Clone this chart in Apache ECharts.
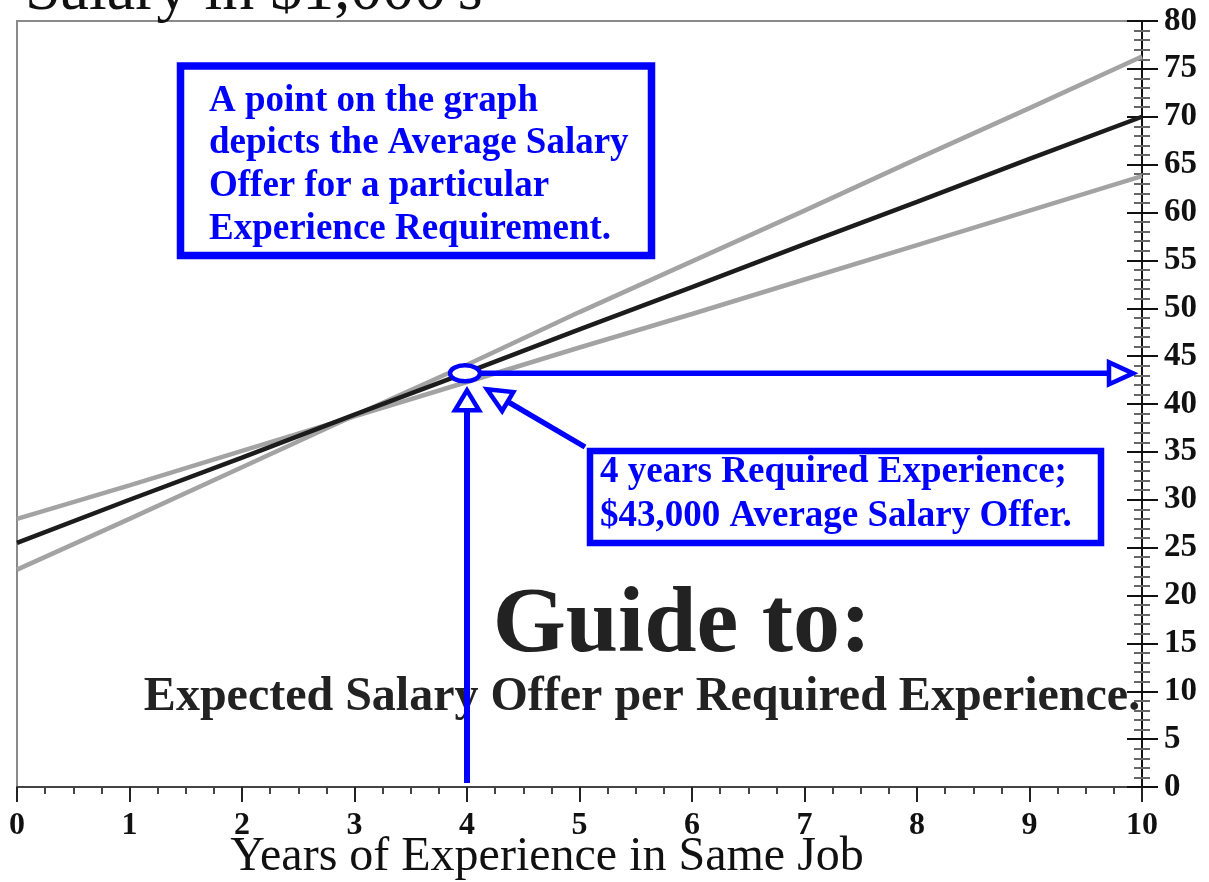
<!DOCTYPE html>
<html>
<head>
<meta charset="utf-8">
<script src="https://cdn.jsdelivr.net/npm/echarts@6/dist/echarts.min.js"></script>
<style>
  html, body { margin: 0; padding: 0; background: #ffffff; }
  #chart { width: 1209px; height: 882px; }
</style>
</head>
<body>
<div id="chart"></div>
<script>
// ---- data ----
const years = [0, 1, 2, 3, 4, 5, 6, 7, 8, 9, 10];
const avgSalary = [25.5, 30.0, 34.4, 38.9, 43.3, 47.8, 52.2, 56.7, 61.1, 65.6, 70.0];
const bandSteep = [22.7, 28.0, 33.4, 38.8, 44.1, 49.6, 54.9, 60.2, 65.6, 70.9, 76.3];
const bandFlat  = [28.0, 31.5, 35.1, 38.7, 42.3, 45.9, 49.4, 53.0, 56.6, 60.2, 63.8];
const highlightYear = 4;
const highlightSalary = 43.2;

const xAxisTitle = 'Years of Experience in Same Job';
const yAxisTitle = "Salary in $1,000's";
const infoLines = ['A point on the graph', 'depicts the Average Salary', 'Offer for a particular', 'Experience Requirement.'];
const calloutLines = ['4 years Required Experience;', '$43,000 Average Salary Offer.'];
const guideTitle = 'Guide to:';
const guideSubtitle = 'Expected Salary Offer per Required Experience.';

const SERIF = '"Liberation Serif", "Times New Roman", serif';
const BLUE = '#0000ff';

const pair = (xs, ys) => xs.map((x, i) => [x, ys[i]]);

const chart = echarts.init(document.getElementById('chart'), null, { renderer: 'canvas' });

const gridBox = { left: 17, right: 67, top: 21, bottom: 95, outerBoundsMode: 'none', containLabel: false };

const yBase = {
  type: 'value', position: 'right', min: 0, max: 80, interval: 5,
  splitLine: { show: false },
  minorTick: { show: true, splitNumber: 5, length: 8, lineStyle: { color: '#666', width: 2 } }
};

chart.setOption({
  animation: false,
  backgroundColor: '#ffffff',
  grid: [
    Object.assign({}, gridBox, { show: true, borderColor: '#8a8a8a', borderWidth: 2, backgroundColor: 'transparent' }),
    Object.assign({}, gridBox, { show: false })
  ],
  xAxis: [
    {
      gridIndex: 0, type: 'value', min: 0, max: 10, interval: 1,
      name: xAxisTitle, nameLocation: 'middle', nameGap: 46, nameMoveOverlap: false,
      nameTextStyle: { fontFamily: SERIF, fontSize: 48, color: '#111', padding: [0, 65, 0, 0] },
      splitLine: { show: false },
      axisLine: { show: true, onZero: false, lineStyle: { color: '#444', width: 2 } },
      axisTick: { show: true, inside: false, length: 15, lineStyle: { color: '#222', width: 2 } },
      minorTick: { show: true, splitNumber: 4, length: 7, lineStyle: { color: '#444', width: 2 } },
      axisLabel: { fontFamily: SERIF, fontWeight: 'bold', fontSize: 32, color: '#111', margin: 23, showMinLabel: true, showMaxLabel: true }
    },
    { gridIndex: 1, type: 'value', min: 0, max: 10, show: false }
  ],
  yAxis: [
    Object.assign({}, yBase, {
      gridIndex: 0,
      axisLine: { show: true, onZero: false, lineStyle: { color: '#111', width: 2 } },
      axisTick: { show: true, inside: false, length: 16, lineStyle: { color: '#111', width: 2 } },
      axisLabel: { fontFamily: SERIF, fontWeight: 'bold', fontSize: 33, color: '#111', margin: 22 }
    }),
    Object.assign({}, yBase, {
      gridIndex: 1,
      axisLine: { show: true, onZero: false, lineStyle: { color: '#111', width: 2 } },
      axisTick: { show: true, inside: true, length: 15, lineStyle: { color: '#111', width: 2 } },
      axisLabel: { show: false }
    })
  ],
  series: [
    { type: 'line', name: 'steep', xAxisIndex: 0, yAxisIndex: 0, data: pair(years, bandSteep), showSymbol: false, symbol: 'none',
      lineStyle: { color: '#a3a3a3', width: 4.5 }, z: 2 },
    { type: 'line', name: 'flat', xAxisIndex: 0, yAxisIndex: 0, data: pair(years, bandFlat), showSymbol: false, symbol: 'none',
      lineStyle: { color: '#a3a3a3', width: 4.5 }, z: 2 },
    { type: 'line', name: 'average', xAxisIndex: 0, yAxisIndex: 0, data: pair(years, avgSalary), showSymbol: false, symbol: 'none',
      lineStyle: { color: '#1c1c1c', width: 4.5 }, z: 3 }
  ]
});

// ---- annotations positioned from the chart's own scales ----
const P = chart.convertToPixel({ gridIndex: 0 }, [highlightYear, highlightSalary]);
const P0 = chart.convertToPixel({ gridIndex: 0 }, [highlightYear, 0]);
const axisRight = chart.convertToPixel({ gridIndex: 0 }, [10, highlightSalary]);

function arrow(from, tip, headLen, headHalf, lw) {
  const dx = tip[0] - from[0], dy = tip[1] - from[1];
  const len = Math.sqrt(dx * dx + dy * dy);
  const ux = dx / len, uy = dy / len;
  const base = [tip[0] - ux * headLen, tip[1] - uy * headLen];
  const px = -uy, py = ux;
  return [
    { type: 'line', shape: { x1: from[0], y1: from[1], x2: base[0], y2: base[1] },
      style: { stroke: BLUE, lineWidth: lw }, z: 100 },
    { type: 'polygon', shape: { points: [tip, [base[0] + px * headHalf, base[1] + py * headHalf], [base[0] - px * headHalf, base[1] - py * headHalf]] },
      style: { stroke: BLUE, fill: '#ffffff', lineWidth: 4.5, lineJoin: 'miter' }, z: 101 }
  ];
}

const graphics = [];
graphics.push({ type: 'text', x: 25, y: 12 - 0.305 * 64, z: 50,
  style: { text: yAxisTitle, font: '64px ' + SERIF, fill: '#111', textAlign: 'left', textVerticalAlign: 'middle' } });

graphics.push({ type: 'text', x: 682, y: 655 - 0.305 * 94, z: 50,
  style: { text: guideTitle, font: 'bold 94px ' + SERIF, fill: '#222', textAlign: 'center', textVerticalAlign: 'middle' } });
graphics.push({ type: 'text', x: 642, y: 712 - 0.305 * 48, z: 50,
  style: { text: guideSubtitle, font: 'bold 48px ' + SERIF, fill: '#222', textAlign: 'center', textVerticalAlign: 'middle' } });

graphics.push({ type: 'rect', shape: { x: 180.5, y: 66, width: 471, height: 189.5 }, z: 60,
  style: { fill: '#ffffff', stroke: BLUE, lineWidth: 7.5 } });
graphics.push({ type: 'text', x: 209, y: 112.3 - 0.305 * 37 - 21.33, z: 61,
  style: { text: infoLines.join('\n'), font: 'bold 37px ' + SERIF, fill: BLUE, lineHeight: 42.67, textAlign: 'left', textVerticalAlign: 'top' } });

graphics.push({ type: 'rect', shape: { x: 590, y: 451, width: 511, height: 92 }, z: 60,
  style: { fill: '#ffffff', stroke: BLUE, lineWidth: 6.5 } });
graphics.push({ type: 'text', x: 600, y: 484 - 0.305 * 37 - 22, z: 61,
  style: { text: calloutLines.join('\n'), font: 'bold 37px ' + SERIF, fill: BLUE, lineHeight: 44, textAlign: 'left', textVerticalAlign: 'top' } });

arrow([P0[0], P0[1] - 4], [P0[0], P[1] + 17], 20, 12, 6).forEach(g => graphics.push(g));
arrow([P[0] + 14, P[1]], [axisRight[0] - 9, P[1]], 24, 11, 5.5).forEach(g => graphics.push(g));
arrow([585, 447], [P[0] + 20, P[1] + 16], 24, 11, 5.5).forEach(g => graphics.push(g));

graphics.push({ type: 'ellipse', shape: { cx: P[0] - 2, cy: P[1], rx: 15, ry: 8 }, z: 110,
  style: { fill: '#ffffff', stroke: BLUE, lineWidth: 4.5 } });

chart.setOption({ graphic: graphics });
</script>
</body>
</html>
